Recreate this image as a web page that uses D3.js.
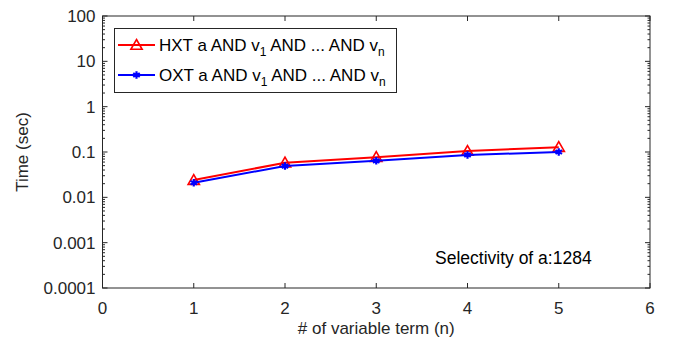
<!DOCTYPE html>
<html>
<head>
<meta charset="utf-8">
<script src="https://cdn.jsdelivr.net/npm/d3@7"></script>
<style>
  body { margin: 0; background: #fff; }
  svg { display: block; font-family: "Liberation Sans", Arial, sans-serif; }
</style>
</head>
<body>
<svg id="chart" width="683" height="348"></svg>
<script>
// data
const terms = [1, 2, 3, 4, 5];
const hxtTimes = [0.024, 0.058, 0.077, 0.105, 0.128];
const oxtTimes = [0.021, 0.049, 0.064, 0.086, 0.100];
const xTicks = [0, 1, 2, 3, 4, 5, 6];
const yTicks = [0.0001, 0.001, 0.01, 0.1, 1, 10, 100];
const yTickLabels = ["0.0001", "0.001", "0.01", "0.1", "1", "10", "100"];

const series = [
  { name: "HXT", values: hxtTimes, color: "#ff0000", marker: "triangle" },
  { name: "OXT", values: oxtTimes, color: "#0000ff", marker: "star" }
];

const svg = d3.select("#chart");
const axisColor = "#262626";
const margin = { left: 102.5, right: 33, top: 16, bottom: 60 };
const width = 683, height = 348;

const x = d3.scaleLinear().domain([0, 6]).range([margin.left, width - margin.right]);
const y = d3.scaleLog().domain([0.0001, 100]).range([height - margin.bottom, margin.top]);

const plot = svg.append("g");

// minor log ticks
const minor = [];
for (let e = -4; e < 2; e++) {
  for (let k = 2; k <= 9; k++) minor.push(k * Math.pow(10, e));
}

function drawAxes() {
  const g = plot.append("g").attr("stroke", axisColor).attr("fill", "none");
  // box
  g.append("rect")
    .attr("x", x(0)).attr("y", y(100))
    .attr("width", x(6) - x(0)).attr("height", y(0.0001) - y(100))
    .attr("stroke-width", 1);

  // x ticks inward, bottom and top
  xTicks.forEach(t => {
    g.append("line").attr("x1", x(t)).attr("x2", x(t))
      .attr("y1", y(0.0001)).attr("y2", y(0.0001) - 5);
    g.append("line").attr("x1", x(t)).attr("x2", x(t))
      .attr("y1", y(100)).attr("y2", y(100) + 5);
  });
  // y major ticks
  yTicks.forEach(t => {
    g.append("line").attr("x1", x(0)).attr("x2", x(0) + 5).attr("y1", y(t)).attr("y2", y(t));
    g.append("line").attr("x1", x(6)).attr("x2", x(6) - 5).attr("y1", y(t)).attr("y2", y(t));
  });
  minor.forEach(t => {
    g.append("line").attr("x1", x(0)).attr("x2", x(0) + 2.5).attr("y1", y(t)).attr("y2", y(t));
    g.append("line").attr("x1", x(6)).attr("x2", x(6) - 2.5).attr("y1", y(t)).attr("y2", y(t));
  });

  const lab = plot.append("g").attr("fill", axisColor).attr("font-size", 17);
  xTicks.forEach(t => {
    lab.append("text").attr("x", x(t)).attr("y", y(0.0001) + 26)
      .attr("text-anchor", "middle").text(t);
  });
  yTicks.forEach((t, i) => {
    lab.append("text").attr("x", x(0) - 7).attr("y", y(t) + 6)
      .attr("text-anchor", "end").text(yTickLabels[i]);
  });

  lab.append("text").attr("x", (x(0) + x(6)) / 2).attr("y", 334)
    .attr("text-anchor", "middle").text("# of variable term (n)");
  lab.append("text")
    .attr("transform", `translate(28,${(y(100) + y(0.0001)) / 2}) rotate(-90)`)
    .attr("text-anchor", "middle").text("Time (sec)");
}

function drawMarker(g, type, color, cx, cy) {
  if (type === "triangle") {
    g.append("path")
      .attr("d", d3.symbol().type(d3.symbolTriangle).size(55)())
      .attr("transform", `translate(${cx},${cy + 1})`)
      .attr("fill", "none").attr("stroke", color).attr("stroke-width", 1.6);
  } else {
    g.append("path")
      .attr("d", d3.symbol().type(d3.symbolAsterisk).size(40)())
      .attr("transform", `translate(${cx},${cy})`)
      .attr("fill", "none").attr("stroke", color).attr("stroke-width", 2.2);
  }
}

drawAxes();

const line = d3.line().x(d => x(d[0])).y(d => y(d[1]));
series.forEach(s => {
  const pts = terms.map((t, i) => [t, s.values[i]]);
  const g = plot.append("g");
  g.append("path").datum(pts).attr("d", line)
    .attr("fill", "none").attr("stroke", s.color).attr("stroke-width", 2);
  pts.forEach(p => drawMarker(g, s.marker, s.color, x(p[0]), y(p[1])));
});

// legend
const leg = svg.append("g");
leg.append("rect").attr("x", 114.5).attr("y", 28.5).attr("width", 282).attr("height", 64)
  .attr("fill", "#fff").attr("stroke", axisColor).attr("stroke-width", 1);
series.forEach((s, i) => {
  const cy = 45 + i * 30;
  leg.append("line").attr("x1", 118).attr("x2", 155).attr("y1", cy).attr("y2", cy)
    .attr("stroke", s.color).attr("stroke-width", 2);
  drawMarker(leg, s.marker, s.color, 136.5, cy);
  const t = leg.append("text").attr("x", 159).attr("y", cy + 6)
    .attr("font-size", 17).attr("fill", "#000");
  t.append("tspan").text(`${s.name} a AND v`);
  t.append("tspan").attr("font-size", 12).attr("dy", 5).text("1");
  t.append("tspan").attr("dy", -5).text(" AND ... AND v");
  t.append("tspan").attr("font-size", 12).attr("dy", 5).text("n");
});

svg.append("text").attr("x", 435).attr("y", 264).attr("font-size", 17.5)
  .attr("fill", "#000").text("Selectivity of a:1284");
</script>
</body>
</html>
